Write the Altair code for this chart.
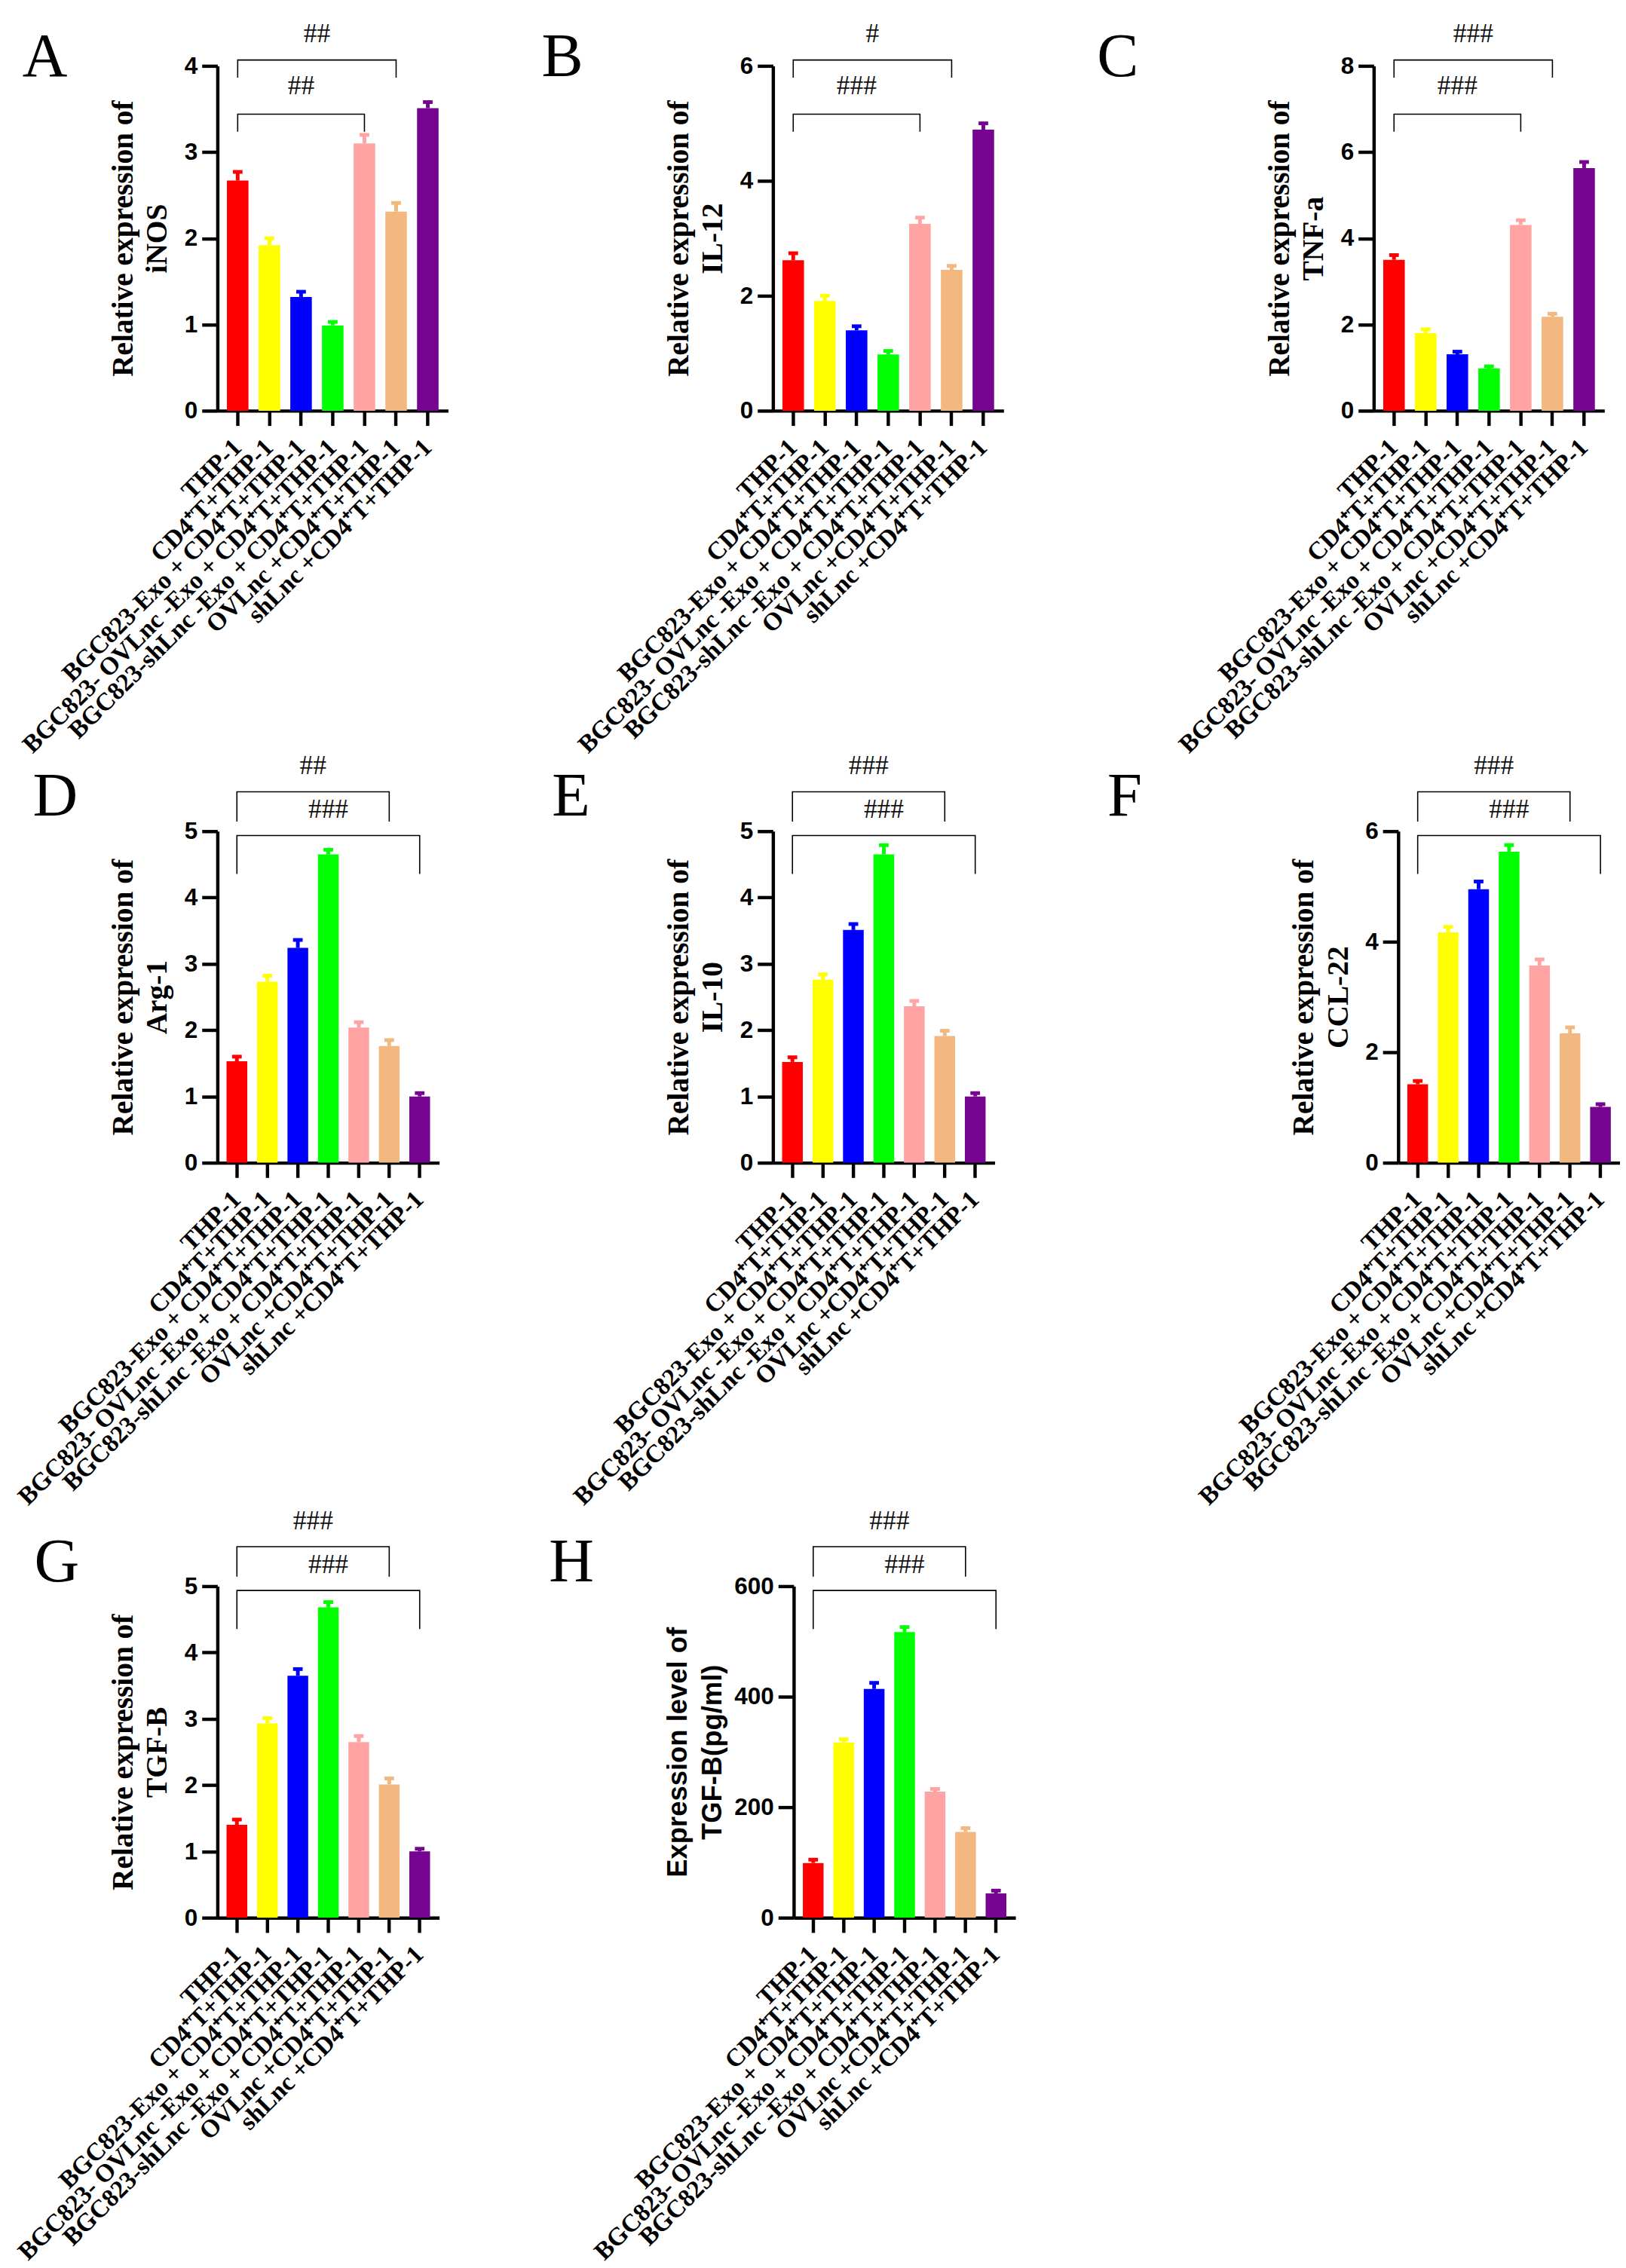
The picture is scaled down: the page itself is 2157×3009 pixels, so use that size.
# ─────────────────────────────────────────────────────────────────────────────
# IMPORT LIBRERIE
# ─────────────────────────────────────────────────────────────────────────────
import altair as alt
import pandas as pd

# ─────────────────────────────────────────────────────────────────────────────
# DATI
# ─────────────────────────────────────────────────────────────────────────────
GROUPS = [
    "THP-1",
    "CD4⁺T+THP-1",
    "BGC823-Exo + CD4⁺T+THP-1",
    "BGC823- OVLnc -Exo + CD4⁺T+THP-1",
    "BGC823-shLnc -Exo + CD4⁺T+THP-1",
    "OVLnc +CD4⁺T+THP-1",
    "shLnc +CD4⁺T+THP-1",
]
COLORS = ["#FF0000", "#FFFF00", "#0000FF", "#00FF00", "#FFA3A3", "#F2B880", "#750490"]

INOS_MEAN = [2.67, 1.92, 1.32, 0.99, 3.10, 2.31, 3.51]
INOS_SEM = [0.10, 0.08, 0.06, 0.04, 0.10, 0.10, 0.07]
IL12_MEAN = [2.62, 1.91, 1.40, 0.98, 3.25, 2.45, 4.89]
IL12_SEM = [0.12, 0.09, 0.07, 0.06, 0.11, 0.07, 0.11]
TNFA_MEAN = [3.50, 1.80, 1.31, 0.98, 4.31, 2.18, 5.63]
TNFA_SEM = [0.11, 0.09, 0.06, 0.05, 0.11, 0.07, 0.14]
ARG1_MEAN = [1.53, 2.73, 3.24, 4.65, 2.04, 1.76, 1.00]
ARG1_SEM = [0.07, 0.09, 0.12, 0.07, 0.08, 0.09, 0.05]
IL10_MEAN = [1.52, 2.76, 3.51, 4.65, 2.36, 1.91, 1.00]
IL10_SEM = [0.07, 0.08, 0.09, 0.14, 0.08, 0.08, 0.05]
CCL22_MEAN = [1.42, 4.17, 4.95, 5.63, 3.57, 2.34, 1.01]
CCL22_SEM = [0.06, 0.10, 0.14, 0.12, 0.11, 0.11, 0.05]
TGFB_MEAN = [1.40, 2.93, 3.65, 4.68, 2.65, 2.01, 1.00]
TGFB_SEM = [0.08, 0.08, 0.10, 0.08, 0.09, 0.09, 0.04]
TGFB_PG_MEAN = [99, 317, 414, 517, 228, 155, 44]
TGFB_PG_SEM = [6, 6, 11, 9, 5, 7, 5]

# ─────────────────────────────────────────────────────────────────────────────
# STILE
# ─────────────────────────────────────────────────────────────────────────────
SERIF = "Liberation Serif"
SANS = "Liberation Sans"
PAD_INNER = 0.32
PAD_OUTER = 0.30

# livelli delle parentesi (frazione del massimo dell'asse)
LEVELS_ROW1 = dict(top=1.017, top_leg=0.966, top_text=1.0925, low=0.860, low_leg=0.809, low_text=0.942)
LEVELS_ROW23 = dict(top=1.119, top_leg=1.029, top_text=1.196, low=0.987, low_leg=0.871, low_text=1.064)

X_SCALE = alt.Scale(domain=GROUPS, paddingInner=PAD_INNER, paddingOuter=PAD_OUTER)


def x_enc():
    return alt.X("Gruppo:N", sort=GROUPS, scale=X_SCALE, title=None)


def y_enc(field, ymax, title, ticks=None, title_font=SERIF, title_size=40, title_pad=16):
    scale = alt.Scale(domain=[0, ymax], nice=False, zero=True)
    if ticks is None:
        return alt.Y(field, scale=scale, title=title)
    return alt.Y(
        field,
        scale=scale,
        title=title,
        axis=alt.Axis(
            values=ticks,
            format="d",
            titleFont=title_font,
            titleFontSize=title_size,
            titlePadding=title_pad,
        ),
    )


# ─────────────────────────────────────────────────────────────────────────────
# PARENTESI DI SIGNIFICATIVITÀ
# ─────────────────────────────────────────────────────────────────────────────
def bracket(i, j, level, leg, text_level, label, ymax, title, step):
    rows = pd.DataFrame(
        {
            "Gruppo": [GROUPS[i], GROUPS[i], GROUPS[j], GROUPS[j]],
            "y": [leg * ymax, level * ymax, level * ymax, leg * ymax],
            "ordine": [0, 1, 2, 3],
        }
    )
    line = (
        alt.Chart(rows)
        .mark_line(color="black", strokeWidth=1.6)
        .encode(x=x_enc(), y=y_enc("y:Q", ymax, title), order="ordine:Q")
    )
    # testo centrato tra le due barre
    mid = (i + j) / 2
    k = int(mid) if mid == int(mid) else int(mid) + 1
    dx = (mid - k) * step
    txt = (
        alt.Chart(pd.DataFrame({"Gruppo": [GROUPS[k]], "y": [text_level * ymax], "t": [label]}))
        .mark_text(font=SERIF, fontSize=36, color="#111111", baseline="middle", dx=dx)
        .encode(x=x_enc(), y=y_enc("y:Q", ymax, title), text="t:N")
    )
    return line + txt


# ─────────────────────────────────────────────────────────────────────────────
# PANNELLO
# ─────────────────────────────────────────────────────────────────────────────
def panel(letter, title, mean, sem, ymax, ticks, sig_top, sig_low, low_end, levels,
          width, height, letter_x, letter_y, title_font=SERIF, title_size=40, title_pad=16):
    df = pd.DataFrame({"Gruppo": GROUPS, "Valore": mean, "SEM": sem})
    df["Top"] = df["Valore"] + df["SEM"]
    step = width / (len(GROUPS) - PAD_INNER + 2 * PAD_OUTER)

    color = alt.Color("Gruppo:N", scale=alt.Scale(domain=GROUPS, range=COLORS), legend=None)

    bars = (
        alt.Chart(df)
        .mark_bar()
        .encode(
            x=x_enc(),
            y=y_enc("Valore:Q", ymax, title, ticks, title_font, title_size, title_pad),
            color=color,
        )
    )
    stems = (
        alt.Chart(df)
        .mark_rule(strokeWidth=5)
        .encode(x=x_enc(), y=y_enc("Valore:Q", ymax, title), y2="Top:Q", color=color)
    )
    caps = (
        alt.Chart(df)
        .mark_tick(orient="horizontal", thickness=5, size=13, opacity=1)
        .encode(x=x_enc(), y=y_enc("Top:Q", ymax, title), color=color)
    )
    br_top = bracket(0, 5, levels["top"], levels["top_leg"], levels["top_text"], sig_top, ymax, title, step)
    br_low = bracket(0, low_end, levels["low"], levels["low_leg"], levels["low_text"], sig_low, ymax, title, step)

    lettera = (
        alt.Chart(pd.DataFrame({"L": [letter]}))
        .mark_text(font=SERIF, fontSize=84, align="left", baseline="alphabetic", color="black")
        .encode(text="L:N", x=alt.value(letter_x), y=alt.value(letter_y))
    )

    return alt.layer(bars, stems, caps, br_top, br_low, lettera).properties(width=width, height=height)


# ─────────────────────────────────────────────────────────────────────────────
# COMPOSIZIONE
# ─────────────────────────────────────────────────────────────────────────────
pA = panel("A", ["Relative expression of", "iNOS"], INOS_MEAN, INOS_SEM, 4, [0, 1, 2, 3, 4],
           "##", "##", 4, LEVELS_ROW1, 311, 465, -263, 14)
pB = panel("B", ["Relative expression of", "IL-12"], IL12_MEAN, IL12_SEM, 6, [0, 2, 4, 6],
           "#", "###", 4, LEVELS_ROW1, 311, 465, -312, 14)
pC = panel("C", ["Relative expression of", "TNF-a"], TNFA_MEAN, TNFA_SEM, 8, [0, 2, 4, 6, 8],
           "###", "###", 4, LEVELS_ROW1, 311, 465, -373, 14)
pD = panel("D", ["Relative expression of", "Arg-1"], ARG1_MEAN, ARG1_SEM, 5, [0, 1, 2, 3, 4, 5],
           "##", "###", 6, LEVELS_ROW23, 299, 447, -249, -21)
pE = panel("E", ["Relative expression of", "IL-10"], IL10_MEAN, IL10_SEM, 5, [0, 1, 2, 3, 4, 5],
           "###", "###", 6, LEVELS_ROW23, 299, 447, -298, -21)
pF = panel("F", ["Relative expression of", "CCL-22"], CCL22_MEAN, CCL22_SEM, 6, [0, 2, 4, 6],
           "###", "###", 6, LEVELS_ROW23, 299, 447, -392, -21)
pG = panel("G", ["Relative expression of", "TGF-B"], TGFB_MEAN, TGFB_SEM, 5, [0, 1, 2, 3, 4, 5],
           "###", "###", 6, LEVELS_ROW23, 299, 447, -247, -7)
pH = panel("H", ["Expression level of", "TGF-B(pg/ml)"], TGFB_PG_MEAN, TGFB_PG_SEM, 600, [0, 200, 400, 600],
           "###", "###", 6, LEVELS_ROW23, 299, 447, -330, -7, title_font=SANS, title_size=37, title_pad=10)

row1 = alt.hconcat(pA, pB, pC, spacing=126)
row2 = alt.hconcat(pD, pE, pF, spacing=152)
row3 = alt.hconcat(pG, pH, spacing=148)

chart = (
    alt.vconcat(alt.vconcat(row1, row2, spacing=-7), row3, spacing=-3)
    .properties(padding={"top": -6, "left": 10, "right": 0, "bottom": 0}, background="white")
    .configure_view(strokeWidth=0)
    .configure_axis(
        domainColor="black",
        domainWidth=4.5,
        tickColor="black",
        tickWidth=4.5,
        grid=False,
        labelColor="black",
        titleColor="black",
    )
    .configure_axisX(
        labelAngle=315,
        labelAlign="right",
        labelBaseline="middle",
        labelFont=SERIF,
        labelFontWeight="bold",
        labelFontSize=34,
        labelPadding=24,
        labelLimit=1000,
        labelOverlap=False,
        tickSize=20,
    )
    .configure_axisY(
        labelFont=SANS,
        labelFontWeight="bold",
        labelFontSize=32,
        labelPadding=6,
        tickSize=21,
        titleFontWeight="bold",
        titleLineHeight=46,
    )
)

chart.save("out.html", embed_options={"renderer": "svg", "actions": False})
